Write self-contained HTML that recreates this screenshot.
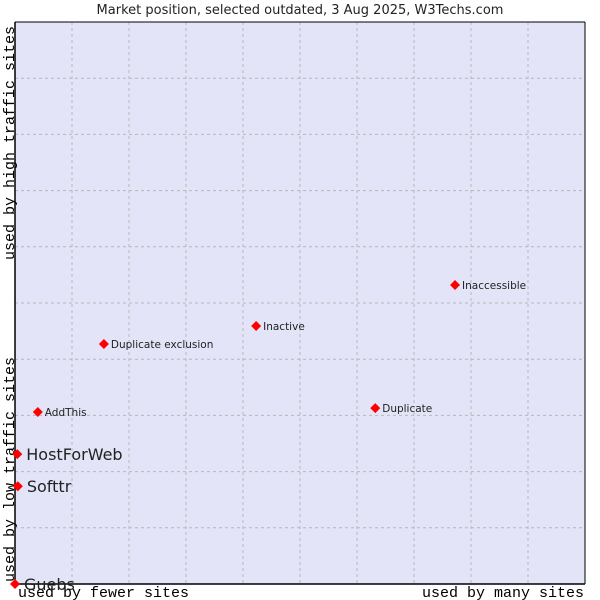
<!DOCTYPE html>
<html><head><meta charset="utf-8"><style>
body{margin:0;background:#fff}
svg{display:block}
</style></head><body>
<svg width="600" height="600" xmlns="http://www.w3.org/2000/svg">
<rect x="0" y="0" width="600" height="600" fill="#fff"/>
<text x="300" y="14" text-anchor="middle" font-family="DejaVu Sans, sans-serif" font-size="13" fill="#222">Market position, selected outdated, 3 Aug 2025, W3Techs.com</text>
<rect x="15" y="22" width="570" height="562" fill="#e3e4f8"/>
<g id="grid"></g>
<path d="M15 22 V584 H585" fill="none" stroke="#000" stroke-width="1.5"/>
<line x1="585" y1="22" x2="585" y2="584" stroke="#000" stroke-width="1"/>
<line x1="15" y1="22" x2="585" y2="22" stroke="#000" stroke-width="1"/>
<text x="18" y="597" font-family="Liberation Mono, monospace" font-size="15" fill="#000">used by fewer sites</text>
<text x="584" y="597" text-anchor="end" font-family="Liberation Mono, monospace" font-size="15" fill="#000">used by many sites</text>
<text transform="translate(14,582) rotate(-90)" font-family="Liberation Mono, monospace" font-size="15" fill="#000">used by low traffic sites</text>
<text transform="translate(14,260) rotate(-90)" font-family="Liberation Mono, monospace" font-size="15" fill="#000">used by high traffic sites</text>
<g id="points"></g>
</svg>
<script>
const names=["Guebs","Softtr","HostForWeb","AddThis","Duplicate exclusion","Inactive","Duplicate","Inaccessible"];
const xValues=[0,0.5,0.4,4.0,15.6,42.3,63.2,77.2];
const yValues=[0,17.4,23.1,30.6,42.7,45.9,31.3,53.2];
const bigLabel=[true,true,true,false,false,false,false,false];
const NS="http://www.w3.org/2000/svg";
const sx=v=>15+v/100*570, sy=v=>584-v/100*562;
const grid=document.getElementById('grid');
for(let i=1;i<10;i++){
 const l=document.createElementNS(NS,'line');
 
 
 const x=sx(i*10);l.setAttribute('x1',x);l.setAttribute('x2',x);l.setAttribute('y1',22);l.setAttribute('y2',584);
 l.setAttribute('stroke','#b8b8b8');l.setAttribute('stroke-dasharray','3,3');grid.appendChild(l);
 const m=document.createElementNS(NS,'line');
 
 
 const y=sy(i*10);m.setAttribute('y1',y);m.setAttribute('y2',y);m.setAttribute('x1',15);m.setAttribute('x2',585);
 m.setAttribute('stroke','#b8b8b8');m.setAttribute('stroke-dasharray','3,3');grid.appendChild(m);
}
const g=document.getElementById('points');
names.forEach((n,i)=>{
 const x=sx(xValues[i]),y=sy(yValues[i]);
 const d=document.createElementNS(NS,'path');
 
 
 d.setAttribute('d',`M${x} ${y-5}L${x+5} ${y}L${x} ${y+5}L${x-5} ${y}Z`);
 d.setAttribute('fill','#ff0000');g.appendChild(d);
 const t=document.createElementNS(NS,'text');
 
 
 t.setAttribute('x',x+(bigLabel[i]?9:7));t.setAttribute('y',y+(bigLabel[i]?6:4));
 t.setAttribute('font-family','DejaVu Sans, sans-serif');
 t.setAttribute('font-size',bigLabel[i]?16:10.5);t.setAttribute('fill','#222');
 t.textContent=n;g.appendChild(t);
});
</script>
</body></html>
